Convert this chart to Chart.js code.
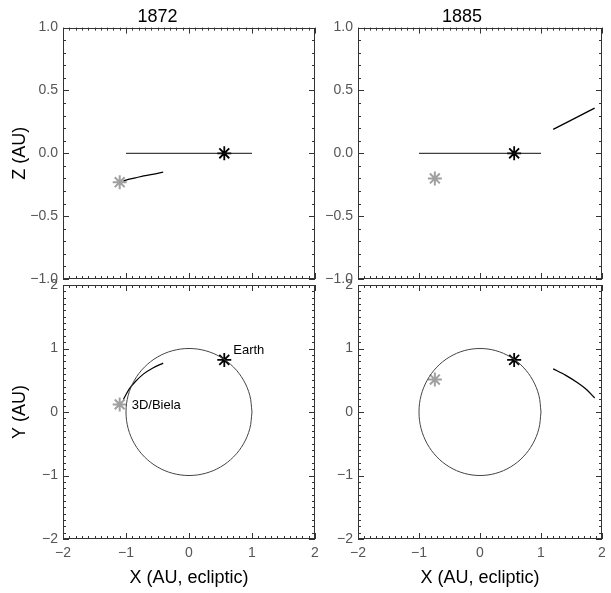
<!DOCTYPE html>
<html>
<head>
<meta charset="utf-8">
<script src="https://cdn.jsdelivr.net/npm/chart.js@4.4.0/dist/chart.umd.min.js"></script>
<style>
    body { margin: 0; background: #fff; }
    #wrap { position: relative; width: 611px; height: 593px; overflow: hidden; background: #fff; }
    #wrap canvas { position: absolute; }
</style>
</head>
<body>
<div id="wrap">
    <canvas id="c1872z" width="330" height="292" style="left:0px;top:0px"></canvas>
    <canvas id="c1885z" width="296" height="292" style="left:315px;top:0px"></canvas>
    <canvas id="c1872y" width="330" height="321" style="left:0px;top:272px"></canvas>
    <canvas id="c1885y" width="296" height="321" style="left:315px;top:272px"></canvas>
</div>
<script>
//DATOS
var years = ["1872", "1885"];
var xTicks = [-2, -1, 0, 1, 2];
var zTicks = [-1, -0.5, 0, 0.5, 1];
var yTicks = [-2, -1, 0, 1, 2];

//ORBITA DE LA TIERRA (VISTA DE ARRIBA Y DE CANTO)
var orbitX = [1, 0.966, 0.866, 0.707, 0.5, 0.259, 0, -0.259, -0.5, -0.707, -0.866, -0.966, -1, -0.966, -0.866, -0.707, -0.5, -0.259, 0, 0.259, 0.5, 0.707, 0.866, 0.966, 1];
var orbitY = [0, 0.259, 0.5, 0.707, 0.866, 0.966, 1, 0.966, 0.866, 0.707, 0.5, 0.259, 0, -0.259, -0.5, -0.707, -0.866, -0.966, -1, -0.966, -0.866, -0.707, -0.5, -0.259, 0];
var edgeX = [-1, 1];
var edgeZ = [0, 0];

//TIERRA (X, Y, Z)
var earth = [0.56, 0.82, 0];

//COMETA 3D/BIELA (POSICION X, Y, Z)
var biela1872 = [-1.1, 0.12, -0.23];
var biela1885 = [-0.74, 0.51, -0.2];

//TRAYECTORIAS
var track1872X = [-1.04, -0.95, -0.85, -0.72, -0.58, -0.41];
var track1872Y = [0.2, 0.36, 0.48, 0.6, 0.69, 0.77];
var track1872Z = [-0.22, -0.205, -0.195, -0.18, -0.168, -0.15];
var track1885X = [1.2, 1.4, 1.6, 1.75, 1.88];
var track1885Y = [0.68, 0.58, 0.46, 0.35, 0.22];
var track1885Z = [0.19, 0.24, 0.29, 0.328, 0.36];

var FONT = "'Liberation Sans', Arial, sans-serif";

function pts(xs, ys) {
    var out = [];
    for (var i = 0; i < xs.length; i++) {
        out.push({ x: xs[i], y: ys[i] });
    }
    return out;
}

function minusFmt(v, dec) {
    var s = Math.abs(v).toFixed(dec);
    return (v < 0 ? "\u2212" : "") + s;
}

//MARCO Y TICKS HACIA ADENTRO EN LOS 4 LADOS
var frameTicks = {
    id: "frameTicks",
    afterDatasetsDraw: function (chart) {
        var ctx = chart.ctx, a = chart.chartArea;
        var xs = chart.scales.x, ys = chart.scales.y;
        ctx.save();
        ctx.strokeStyle = "#333";
        ctx.lineWidth = 1;
        ctx.strokeRect(Math.round(a.left) + 0.5, Math.round(a.top) + 0.5, Math.round(a.right - a.left) - 1, Math.round(a.bottom - a.top) - 1);
        ctx.beginPath();
        var i, v, p, len;
        var xMajor = xs.options.ticks.stepSize, yMajor = ys.options.ticks.stepSize;
        for (i = Math.round(xs.min * 10); i <= Math.round(xs.max * 10); i++) {
            v = i / 10;
            len = (Math.abs(v / xMajor - Math.round(v / xMajor)) < 1e-6) ? 6 : 3;
            p = Math.round(xs.getPixelForValue(v)) + 0.5;
            ctx.moveTo(p, a.top); ctx.lineTo(p, a.top + len);
            ctx.moveTo(p, a.bottom); ctx.lineTo(p, a.bottom - len);
        }
        for (i = Math.round(ys.min * 10); i <= Math.round(ys.max * 10); i++) {
            v = i / 10;
            len = (Math.abs(v / yMajor - Math.round(v / yMajor)) < 1e-6) ? 6 : 3;
            p = Math.round(ys.getPixelForValue(v)) + 0.5;
            ctx.moveTo(a.left, p); ctx.lineTo(a.left + len, p);
            ctx.moveTo(a.right, p); ctx.lineTo(a.right - len, p);
        }
        ctx.stroke();
        ctx.restore();
    }
};

//ETIQUETAS DE TEXTO (Earth, 3D/Biela)
var textLabels = {
    id: "textLabels",
    afterDatasetsDraw: function (chart, args, opts) {
        if (!opts.items) return;
        var ctx = chart.ctx;
        ctx.save();
        ctx.fillStyle = "#000";
        ctx.font = "13px " + FONT;
        ctx.textAlign = "left";
        ctx.textBaseline = "middle";
        opts.items.forEach(function (it) {
            var px = chart.scales.x.getPixelForValue(it.x) + it.dx;
            var py = chart.scales.y.getPixelForValue(it.y) + it.dy;
            ctx.fillText(it.text, px, py);
        });
        ctx.restore();
    }
};

function starSet(x, y, color, r, w) {
    return {
        data: [{ x: x, y: y }],
        pointStyle: "star",
        pointRadius: r,
        pointBorderColor: color,
        pointBackgroundColor: color,
        pointBorderWidth: w,
        showLine: false
    };
}

function lineSet(data, color, w, tension) {
    return {
        data: data,
        showLine: true,
        borderColor: color,
        borderWidth: w,
        pointRadius: 0,
        tension: tension || 0,
        fill: false
    };
}

function crearPanel(id, cfg) {
    var top = cfg.row == 0;
    var yW = cfg.col == 0 ? 63 : 43;
    new Chart(document.getElementById(id), {
        type: "scatter",
        data: { datasets: cfg.datasets },
        plugins: [frameTicks, textLabels],
        options: {
            responsive: false,
            animation: false,
            events: [],
            layout: {
                padding: {
                    left: 0,
                    right: cfg.col == 0 ? 15 : 2,
                    top: top ? 0 : 13,
                    bottom: top ? 13 : 0
                }
            },
            plugins: {
                legend: { display: false },
                tooltip: { enabled: false },
                title: {
                    display: top,
                    text: cfg.title,
                    color: "#000",
                    font: { family: FONT, size: 18, weight: "normal" },
                    padding: { top: 6, bottom: 0 }
                },
                textLabels: { items: cfg.labels }
            },
            scales: {
                x: {
                    type: "linear",
                    min: xTicks[0],
                    max: xTicks[xTicks.length - 1],
                    afterBuildTicks: function (s) { s.ticks = xTicks.map(function (v) { return { value: v }; }); },
                    ticks: {
                        stepSize: 1,
                        display: !top,
                        padding: 6,
                        color: "#555",
                        font: { family: FONT, size: 14 },
                        maxRotation: 0,
                        callback: function (v) { return minusFmt(v, 0); }
                    },
                    grid: { display: false, drawTicks: false },
                    border: { display: false },
                    title: {
                        display: !top,
                        text: "X (AU, ecliptic)",
                        color: "#000",
                        font: { family: FONT, size: 18 },
                        padding: { top: 0, bottom: 4 }
                    },
                    afterFit: function (s) {
                        s.height = top ? 0 : 54;
                        s.paddingLeft = 0;
                        s.paddingRight = 0;
                    }
                },
                y: {
                    type: "linear",
                    min: cfg.yTicks[0],
                    max: cfg.yTicks[cfg.yTicks.length - 1],
                    afterBuildTicks: function (s) { s.ticks = cfg.yTicks.map(function (v) { return { value: v }; }); },
                    ticks: {
                        stepSize: top ? 0.5 : 1,
                        padding: 5,
                        color: "#555",
                        font: { family: FONT, size: 14 },
                        callback: function (v) { return minusFmt(v, top ? 1 : 0); }
                    },
                    grid: { display: false, drawTicks: false },
                    border: { display: false },
                    title: {
                        display: cfg.col == 0,
                        text: top ? "Z (AU)" : "Y (AU)",
                        color: "#000",
                        font: { family: FONT, size: 18 },
                        padding: { top: 9, bottom: 0 }
                    },
                    afterFit: function (s) {
                        s.width = yW;
                        s.paddingTop = 0;
                        s.paddingBottom = 0;
                    }
                }
            }
        }
    });
}

//PANEL SUPERIOR IZQUIERDO (1872, X-Z)
crearPanel("c1872z", {
    row: 0, col: 0, title: years[0], yTicks: zTicks,
    datasets: [
        lineSet(pts(edgeX, edgeZ), "#111", 1),
        lineSet(pts(track1872X, track1872Z), "#000", 1.2, 0.3),
        starSet(biela1872[0], biela1872[2], "#a0a0a0", 7, 2),
        starSet(earth[0], earth[2], "#000", 7, 1.8)
    ]
});

//PANEL SUPERIOR DERECHO (1885, X-Z)
crearPanel("c1885z", {
    row: 0, col: 1, title: years[1], yTicks: zTicks,
    datasets: [
        lineSet(pts(edgeX, edgeZ), "#111", 1),
        lineSet(pts(track1885X, track1885Z), "#000", 1.3),
        starSet(biela1885[0], biela1885[2], "#a0a0a0", 7, 2),
        starSet(earth[0], earth[2], "#000", 7, 1.8)
    ]
});

//PANEL INFERIOR IZQUIERDO (1872, X-Y)
crearPanel("c1872y", {
    row: 1, col: 0, yTicks: yTicks,
    labels: [
        { text: "Earth", x: earth[0], y: earth[1], dx: 9, dy: -10 },
        { text: "3D/Biela", x: biela1872[0], y: biela1872[1], dx: 12, dy: 1 }
    ],
    datasets: [
        lineSet(pts(orbitX, orbitY), "#444", 1, 0.35),
        lineSet(pts(track1872X, track1872Y), "#000", 1.2, 0.3),
        starSet(biela1872[0], biela1872[1], "#a0a0a0", 7, 2),
        starSet(earth[0], earth[1], "#000", 7, 1.8)
    ]
});

//PANEL INFERIOR DERECHO (1885, X-Y)
crearPanel("c1885y", {
    row: 1, col: 1, yTicks: yTicks,
    datasets: [
        lineSet(pts(orbitX, orbitY), "#444", 1, 0.35),
        lineSet(pts(track1885X, track1885Y), "#000", 1.3, 0.3),
        starSet(biela1885[0], biela1885[1], "#a0a0a0", 7, 2),
        starSet(earth[0], earth[1], "#000", 7, 1.8)
    ]
});
</script>
</body>
</html>
